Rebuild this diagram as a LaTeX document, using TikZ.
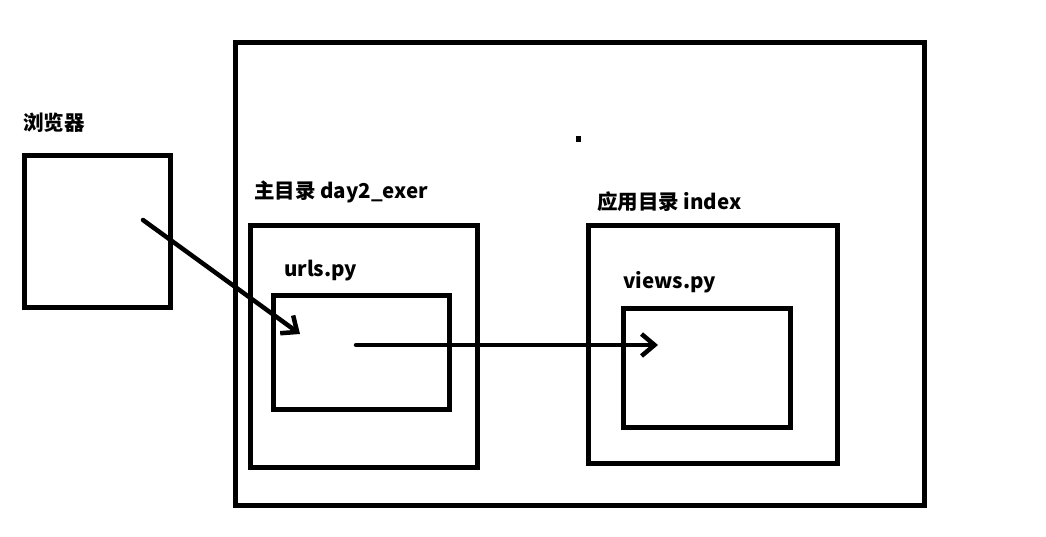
\documentclass[tikz,border=0pt]{standalone}
\usepackage{fontspec}
\setmainfont{Noto Sans CJK SC}[BoldFont={* Black}]
\usetikzlibrary{arrows.meta}
\begin{document}
\begin{tikzpicture}[x=1pt,y=-1pt,
  box/.style={draw=black,line width=5pt,rectangle,inner sep=0pt,outer sep=0pt},
  lbl/.style={inner sep=0pt,anchor=base west,font=\fontsize{20.5}{24}\selectfont\bfseries},
  flow/.style={line width=4.5pt,line cap=round,-{Straight Barb[length=13pt,width=22pt,line width=4.5pt]}}]
  \useasboundingbox[fill=white] (0,0) rectangle (1046,536);

  % containers
  \node[box,minimum width=689pt,minimum height=463pt] (project) at (579.5,273.5) {};
  \node[box,minimum width=146pt,minimum height=152pt] (browser) at (97,231) {};
  \node[box,minimum width=227pt,minimum height=242pt] (maindir) at (363.5,346) {};
  \node[box,minimum width=176pt,minimum height=114pt] (urls) at (361,352) {};
  \node[box,minimum width=249pt,minimum height=238pt] (appdir) at (712.5,344) {};
  \node[box,minimum width=167pt,minimum height=119pt] (views) at (706.5,367.5) {};

  % labels
  \node[lbl] (tbrowser) at (23,130) {浏览器};
  \node[lbl] (tmain) at (254,198) {主目录 day2\_exer};
  \node[lbl] (turls) at (284,276) {urls.py};
  \node[lbl] (tapp) at (597,209) {应用目录 index};
  \node[lbl] (tviews) at (623,288) {views.py};

  % small mark
  \fill (576,135.5) rectangle (581,141.5);

  % request flow
  \coordinate (req) at (143,220);
  \coordinate (urlin) at (300,334);
  \coordinate (urlout) at (356,345);
  \coordinate (viewin) at (658,345);
  \draw[flow] (req) -- (urlin);
  \draw[flow] (urlout) -- (viewin);
\end{tikzpicture}
\end{document}
